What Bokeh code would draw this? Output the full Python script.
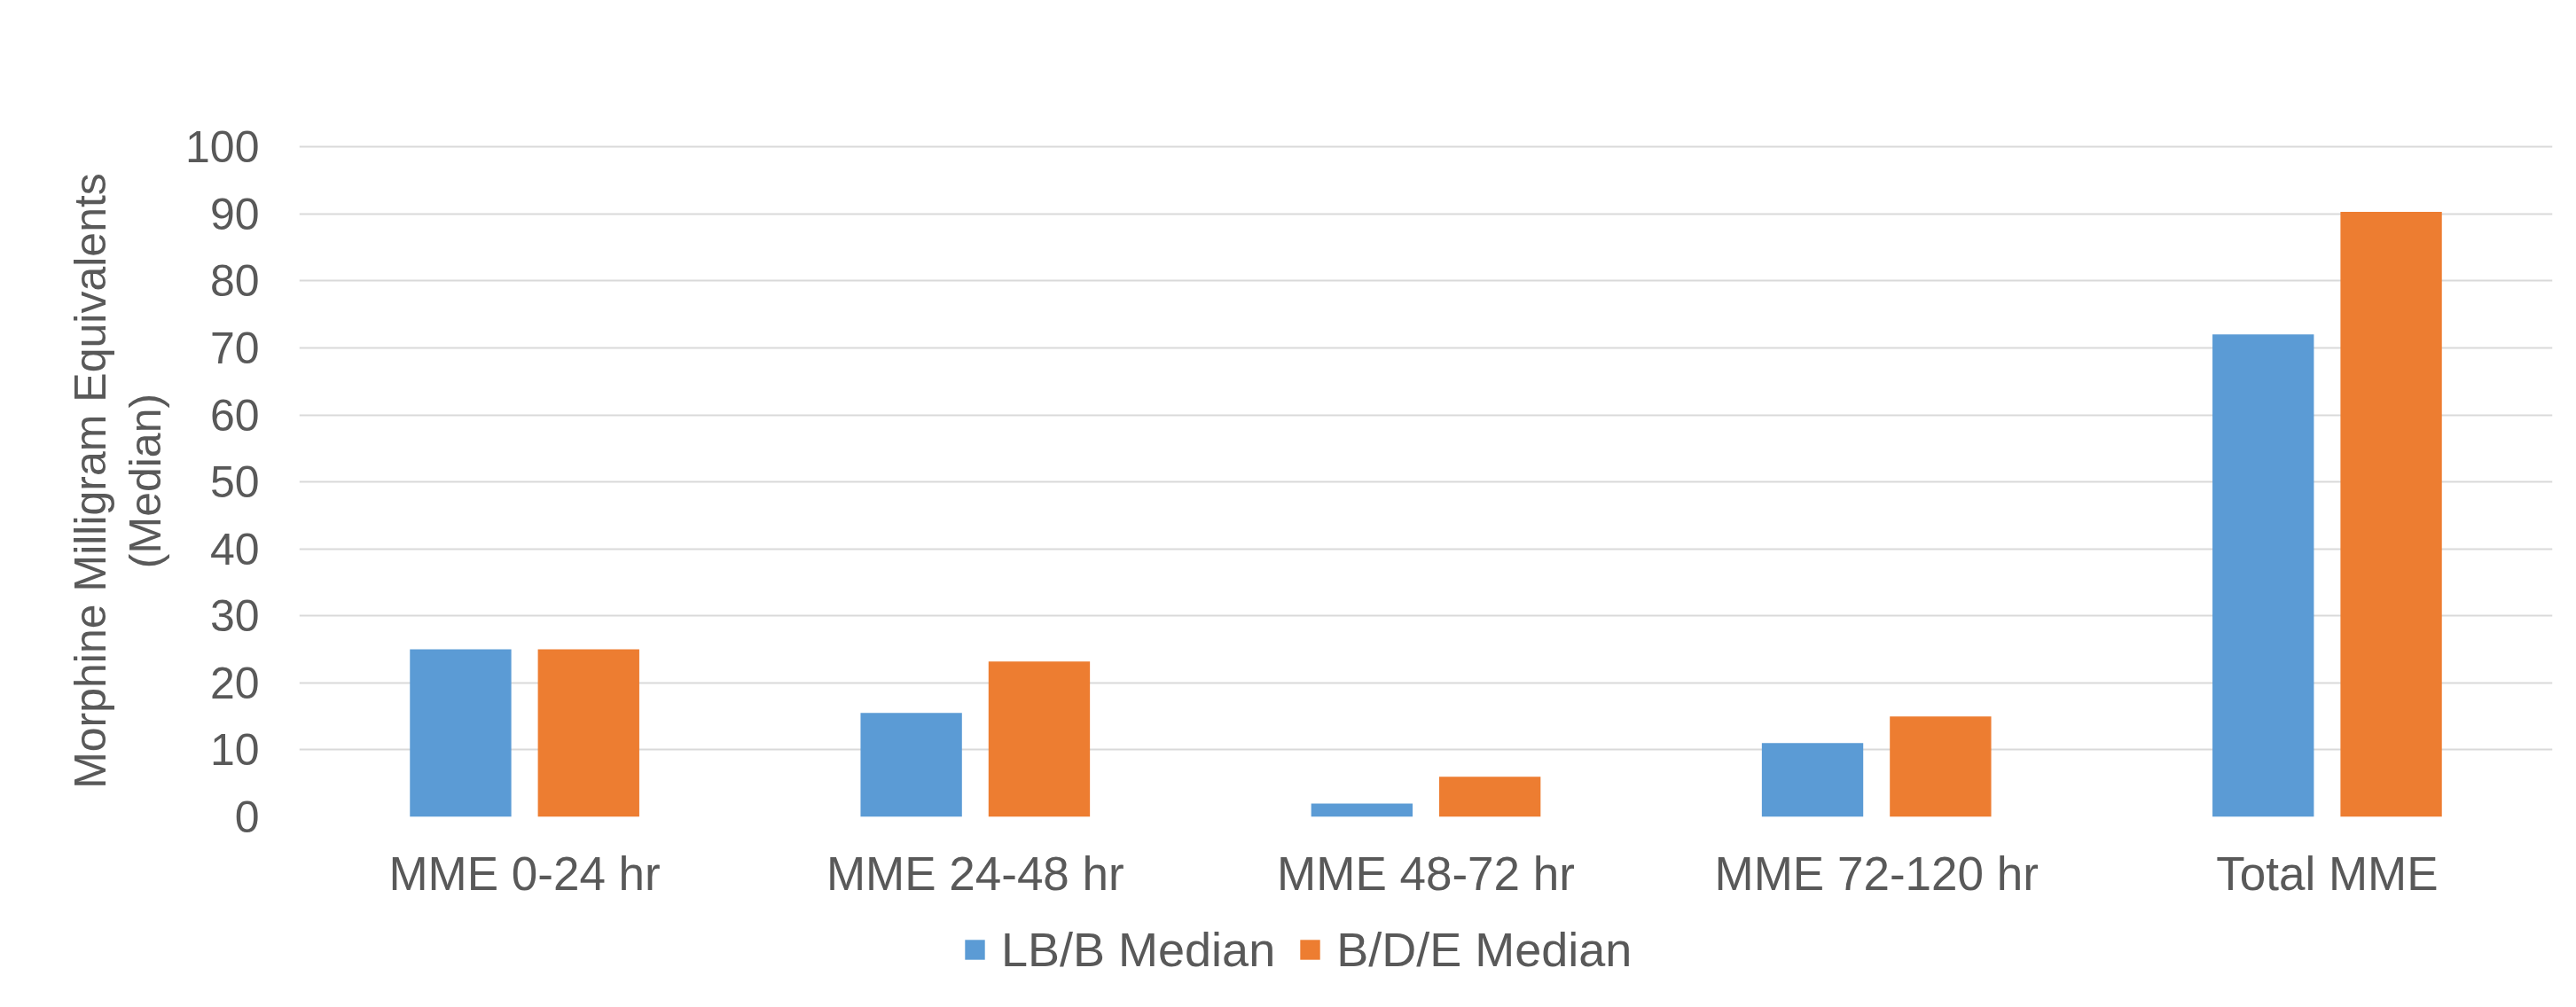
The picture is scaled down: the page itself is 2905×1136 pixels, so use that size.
from bokeh.plotting import figure
from bokeh.layouts import column
from bokeh.models import FactorRange, Legend, LegendItem, ColumnDataSource, Range1d
from bokeh.transform import dodge
from bokeh.embed import file_html
from bokeh.resources import INLINE

categories = ["MME 0-24 hr", "MME 24-48 hr", "MME 48-72 hr", "MME 72-120 hr", "Total MME"]
lbb_median = [25, 15.5, 2, 11, 72]
bde_median = [25, 23.2, 6, 15, 90.3]
series_names = ["LB/B Median", "B/D/E Median"]
y_ticks = [0, 10, 20, 30, 40, 50, 60, 70, 80, 90, 100]

BLUE = "#5B9BD5"
ORANGE = "#ED7D31"
TEXT = "#595959"
GRID = "#D9D9D9"
FONT = "Liberation Sans"

src = ColumnDataSource(dict(cat=categories, lbb=lbb_median, bde=bde_median))

p = figure(x_range=FactorRange(*categories, range_padding=0), y_range=(0, 100.3),
           width=2905, height=1030, output_backend="svg", toolbar_location=None,
           min_border_left=337, min_border_right=27, min_border_top=163, min_border_bottom=109)

r1 = p.vbar(x=dodge("cat", -0.142, range=p.x_range), top="lbb", width=0.225, source=src,
            fill_color=BLUE, line_color=None)
r2 = p.vbar(x=dodge("cat", 0.142, range=p.x_range), top="bde", width=0.225, source=src,
            fill_color=ORANGE, line_color=None)

p.outline_line_color = None
p.xgrid.grid_line_color = None
p.ygrid.grid_line_color = GRID
p.ygrid.grid_line_width = 2
p.yaxis.ticker = y_ticks

for ax in (p.xaxis[0], p.yaxis[0]):
    ax.axis_line_color = None
    ax.major_tick_line_color = None
    ax.minor_tick_line_color = None
    ax.major_label_text_color = TEXT
    ax.major_label_text_font = FONT

p.yaxis.major_label_text_font_size = "50px"
p.yaxis.major_label_standoff = 39
p.xaxis.major_label_text_font_size = "53px"
p.xaxis.major_label_standoff = 28

p.yaxis.axis_label = "Morphine Milligram Equivalents\n(Median)"
p.yaxis.axis_label_text_font = FONT
p.yaxis.axis_label_text_font_size = "50px"
p.yaxis.axis_label_text_font_style = "normal"
p.yaxis.axis_label_text_color = TEXT
p.yaxis.axis_label_text_line_height = 1.1
p.yaxis.axis_label_standoff = 14

# Legend strip below the chart: same series, but its y-range keeps the bars out of view
p2 = figure(x_range=FactorRange(*categories), y_range=Range1d(5000, 5001),
            width=2905, height=106, output_backend="svg", toolbar_location=None,
            x_axis_location=None, y_axis_location=None,
            min_border_left=0, min_border_right=0, min_border_top=0, min_border_bottom=0)
p2.outline_line_color = None
p2.grid.grid_line_color = None
l1 = p2.vbar(x=dodge("cat", -0.142, range=p2.x_range), top="lbb", width=0.225, source=src,
             fill_color=BLUE, line_color=None)
l2 = p2.vbar(x=dodge("cat", 0.142, range=p2.x_range), top="bde", width=0.225, source=src,
             fill_color=ORANGE, line_color=None)

legend = Legend(items=[LegendItem(label=series_names[0], renderers=[l1]),
                       LegendItem(label=series_names[1], renderers=[l2])],
                orientation="horizontal", location=(748, 34),
                glyph_width=28, glyph_height=28, label_standoff=16, spacing=25,
                padding=0, margin=0, border_line_color=None, background_fill_alpha=0,
                label_text_font=FONT, label_text_font_size="54px", label_text_color=TEXT)
p2.add_layout(legend, "center")

layout = column(p, p2, spacing=0)
open("out.html", "w").write(file_html(layout, INLINE))
